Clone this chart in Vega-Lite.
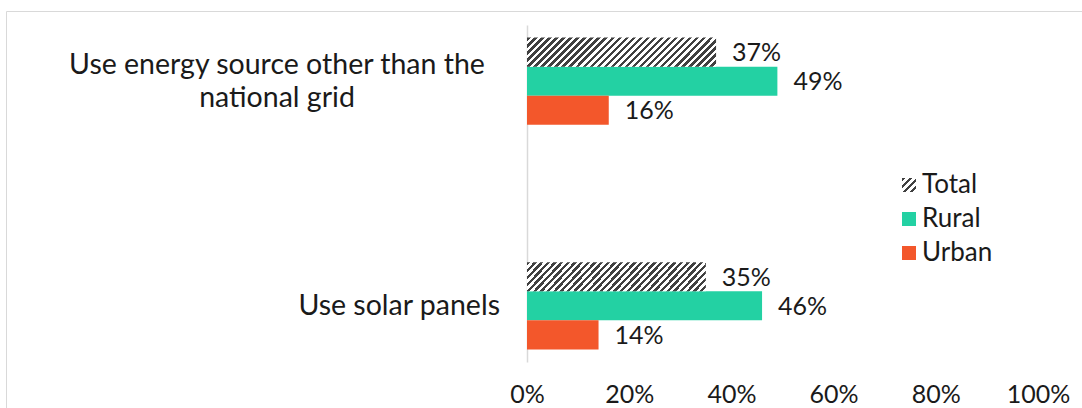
{
  "$schema": "https://vega.github.io/schema/vega-lite/v6.json",
  "width": 1080,
  "height": 400,
  "autosize": {"type": "none"},
  "padding": {"left": 6, "top": 11, "right": 0, "bottom": 0},
  "background": "white",
  "config": {
    "view": {"stroke": "#d9d9d9", "strokeWidth": 1},
    "font": "Lato",
    "text": {"font": "Lato", "color": "#1a1a1a"}
  },
  "data": {
    "values": [
      {"category": "Use energy source other than the\nnational grid", "series": "Total", "value": 0.37},
      {"category": "Use energy source other than the\nnational grid", "series": "Rural", "value": 0.49},
      {"category": "Use energy source other than the\nnational grid", "series": "Urban", "value": 0.16},
      {"category": "Use solar panels", "series": "Total", "value": 0.35},
      {"category": "Use solar panels", "series": "Rural", "value": 0.46},
      {"category": "Use solar panels", "series": "Urban", "value": 0.14}
    ]
  },
  "encoding": {
    "y": {
      "field": "category",
      "type": "nominal",
      "scale": {
        "domain": ["Use energy source other than the\nnational grid", "Use solar panels"],
        "range": [14, 351],
        "paddingInner": 0.612,
        "paddingOuter": 0.056
      },
      "axis": {
        "labels": false,
        "ticks": false,
        "grid": false,
        "title": null,
        "domainColor": "#d9d9d9",
        "domainWidth": 1.5,
        "offset": -521
      }
    },
    "x": {
      "field": "value",
      "type": "quantitative",
      "scale": {"domain": [0, 1], "range": [521, 1032]},
      "axis": {
        "format": ".0%",
        "values": [0, 0.2, 0.4, 0.6, 0.8, 1],
        "domain": false,
        "ticks": false,
        "grid": false,
        "title": null,
        "labelFlush": false,
        "labelOverlap": false,
        "labelFont": "Lato",
        "labelFontSize": 25,
        "labelColor": "#1a1a1a",
        "labelPadding": 0,
        "offset": -29
      }
    }
  },
  "layer": [
    {
      "transform": [{"filter": "datum.series !== 'Total'"}],
      "mark": {"type": "bar"},
      "encoding": {
        "yOffset": {"field": "series", "type": "nominal", "scale": {"domain": ["Total", "Rural", "Urban"], "paddingInner": 0, "paddingOuter": 0}},
        "color": {
          "field": "series",
          "type": "nominal",
          "scale": {
            "domain": ["Total", "Rural", "Urban"],
            "range": [
              {"expr": "{gradient: 'linear', x1: 0, y1: 0, x2: 1, y2: 1, stops: [{offset: 0, color: '#404040'}, {offset: 0.125, color: '#404040'}, {offset: 0.125, color: '#ffffff'}, {offset: 0.25, color: '#ffffff'}, {offset: 0.25, color: '#404040'}, {offset: 0.375, color: '#404040'}, {offset: 0.375, color: '#ffffff'}, {offset: 0.5, color: '#ffffff'}, {offset: 0.5, color: '#404040'}, {offset: 0.625, color: '#404040'}, {offset: 0.625, color: '#ffffff'}, {offset: 0.75, color: '#ffffff'}, {offset: 0.75, color: '#404040'}, {offset: 0.875, color: '#404040'}, {offset: 0.875, color: '#ffffff'}, {offset: 1, color: '#ffffff'}]}"},
              "#23D1A3",
              "#F3572B"
            ]
          },
          "legend": {
            "orient": "none",
            "legendX": 890,
            "legendY": 161,
            "padding": 0,
            "title": null,
            "symbolType": "square",
            "symbolSize": 196,
            "symbolStrokeWidth": 0,
            "labelFont": "Lato",
            "labelFontSize": 26,
            "labelColor": "#1a1a1a",
            "labelOffset": 0,
            "rowPadding": 8
          }
        }
      }
    },
    {
      "transform": [{"filter": "datum.series === 'Total'"}],
      "mark": {
        "type": "bar",
        "fill": {
          "gradient": "linear",
          "x1": 0, "y1": 0, "x2": 1.1269, "y2": 0.1729,
          "stops": [
            {"offset": 0, "color": "#404040"}, {"offset": 0.0161, "color": "#404040"}, {"offset": 0.0161, "color": "#ffffff"}, {"offset": 0.0323, "color": "#ffffff"},
            {"offset": 0.0323, "color": "#404040"}, {"offset": 0.0484, "color": "#404040"}, {"offset": 0.0484, "color": "#ffffff"}, {"offset": 0.0645, "color": "#ffffff"},
            {"offset": 0.0645, "color": "#404040"}, {"offset": 0.0806, "color": "#404040"}, {"offset": 0.0806, "color": "#ffffff"}, {"offset": 0.0968, "color": "#ffffff"},
            {"offset": 0.0968, "color": "#404040"}, {"offset": 0.1129, "color": "#404040"}, {"offset": 0.1129, "color": "#ffffff"}, {"offset": 0.1290, "color": "#ffffff"},
            {"offset": 0.1290, "color": "#404040"}, {"offset": 0.1452, "color": "#404040"}, {"offset": 0.1452, "color": "#ffffff"}, {"offset": 0.1613, "color": "#ffffff"},
            {"offset": 0.1613, "color": "#404040"}, {"offset": 0.1774, "color": "#404040"}, {"offset": 0.1774, "color": "#ffffff"}, {"offset": 0.1935, "color": "#ffffff"},
            {"offset": 0.1935, "color": "#404040"}, {"offset": 0.2097, "color": "#404040"}, {"offset": 0.2097, "color": "#ffffff"}, {"offset": 0.2258, "color": "#ffffff"},
            {"offset": 0.2258, "color": "#404040"}, {"offset": 0.2419, "color": "#404040"}, {"offset": 0.2419, "color": "#ffffff"}, {"offset": 0.2581, "color": "#ffffff"},
            {"offset": 0.2581, "color": "#404040"}, {"offset": 0.2742, "color": "#404040"}, {"offset": 0.2742, "color": "#ffffff"}, {"offset": 0.2903, "color": "#ffffff"},
            {"offset": 0.2903, "color": "#404040"}, {"offset": 0.3065, "color": "#404040"}, {"offset": 0.3065, "color": "#ffffff"}, {"offset": 0.3226, "color": "#ffffff"},
            {"offset": 0.3226, "color": "#404040"}, {"offset": 0.3387, "color": "#404040"}, {"offset": 0.3387, "color": "#ffffff"}, {"offset": 0.3548, "color": "#ffffff"},
            {"offset": 0.3548, "color": "#404040"}, {"offset": 0.3710, "color": "#404040"}, {"offset": 0.3710, "color": "#ffffff"}, {"offset": 0.3871, "color": "#ffffff"},
            {"offset": 0.3871, "color": "#404040"}, {"offset": 0.4032, "color": "#404040"}, {"offset": 0.4032, "color": "#ffffff"}, {"offset": 0.4194, "color": "#ffffff"},
            {"offset": 0.4194, "color": "#404040"}, {"offset": 0.4355, "color": "#404040"}, {"offset": 0.4355, "color": "#ffffff"}, {"offset": 0.4516, "color": "#ffffff"},
            {"offset": 0.4516, "color": "#404040"}, {"offset": 0.4677, "color": "#404040"}, {"offset": 0.4677, "color": "#ffffff"}, {"offset": 0.4839, "color": "#ffffff"},
            {"offset": 0.4839, "color": "#404040"}, {"offset": 0.5000, "color": "#404040"}, {"offset": 0.5000, "color": "#ffffff"}, {"offset": 0.5161, "color": "#ffffff"},
            {"offset": 0.5161, "color": "#404040"}, {"offset": 0.5323, "color": "#404040"}, {"offset": 0.5323, "color": "#ffffff"}, {"offset": 0.5484, "color": "#ffffff"},
            {"offset": 0.5484, "color": "#404040"}, {"offset": 0.5645, "color": "#404040"}, {"offset": 0.5645, "color": "#ffffff"}, {"offset": 0.5806, "color": "#ffffff"},
            {"offset": 0.5806, "color": "#404040"}, {"offset": 0.5968, "color": "#404040"}, {"offset": 0.5968, "color": "#ffffff"}, {"offset": 0.6129, "color": "#ffffff"},
            {"offset": 0.6129, "color": "#404040"}, {"offset": 0.6290, "color": "#404040"}, {"offset": 0.6290, "color": "#ffffff"}, {"offset": 0.6452, "color": "#ffffff"},
            {"offset": 0.6452, "color": "#404040"}, {"offset": 0.6613, "color": "#404040"}, {"offset": 0.6613, "color": "#ffffff"}, {"offset": 0.6774, "color": "#ffffff"},
            {"offset": 0.6774, "color": "#404040"}, {"offset": 0.6935, "color": "#404040"}, {"offset": 0.6935, "color": "#ffffff"}, {"offset": 0.7097, "color": "#ffffff"},
            {"offset": 0.7097, "color": "#404040"}, {"offset": 0.7258, "color": "#404040"}, {"offset": 0.7258, "color": "#ffffff"}, {"offset": 0.7419, "color": "#ffffff"},
            {"offset": 0.7419, "color": "#404040"}, {"offset": 0.7581, "color": "#404040"}, {"offset": 0.7581, "color": "#ffffff"}, {"offset": 0.7742, "color": "#ffffff"},
            {"offset": 0.7742, "color": "#404040"}, {"offset": 0.7903, "color": "#404040"}, {"offset": 0.7903, "color": "#ffffff"}, {"offset": 0.8065, "color": "#ffffff"},
            {"offset": 0.8065, "color": "#404040"}, {"offset": 0.8226, "color": "#404040"}, {"offset": 0.8226, "color": "#ffffff"}, {"offset": 0.8387, "color": "#ffffff"},
            {"offset": 0.8387, "color": "#404040"}, {"offset": 0.8548, "color": "#404040"}, {"offset": 0.8548, "color": "#ffffff"}, {"offset": 0.8710, "color": "#ffffff"},
            {"offset": 0.8710, "color": "#404040"}, {"offset": 0.8871, "color": "#404040"}, {"offset": 0.8871, "color": "#ffffff"}, {"offset": 0.9032, "color": "#ffffff"},
            {"offset": 0.9032, "color": "#404040"}, {"offset": 0.9194, "color": "#404040"}, {"offset": 0.9194, "color": "#ffffff"}, {"offset": 0.9355, "color": "#ffffff"},
            {"offset": 0.9355, "color": "#404040"}, {"offset": 0.9516, "color": "#404040"}, {"offset": 0.9516, "color": "#ffffff"}, {"offset": 0.9677, "color": "#ffffff"},
            {"offset": 0.9677, "color": "#404040"}, {"offset": 0.9839, "color": "#404040"}, {"offset": 0.9839, "color": "#ffffff"}, {"offset": 1, "color": "#ffffff"}
          ]
        }
      },
      "encoding": {
        "yOffset": {"field": "series", "type": "nominal", "scale": {"domain": ["Total", "Rural", "Urban"], "paddingInner": 0, "paddingOuter": 0}}
      }
    },
    {
      "mark": {"type": "text", "align": "left", "baseline": "middle", "dx": 16, "dy": 1, "fontSize": 25, "font": "Lato", "color": "#1a1a1a"},
      "encoding": {
        "yOffset": {"field": "series", "type": "nominal", "scale": {"domain": ["Total", "Rural", "Urban"], "paddingInner": 0, "paddingOuter": 0}},
        "text": {"field": "value", "type": "quantitative", "format": ".0%"}
      }
    },
    {
      "transform": [{"filter": "datum.series === 'Total' && datum.category === 'Use solar panels'"}],
      "mark": {"type": "text", "align": "right", "baseline": "middle", "dx": -27, "fontSize": 28.5, "font": "Lato", "color": "#1a1a1a"},
      "encoding": {
        "x": {"datum": 0, "type": "quantitative"},
        "text": {"field": "category", "type": "nominal"}
      }
    },
    {
      "transform": [{"filter": "datum.series === 'Total' && datum.category !== 'Use solar panels'"}],
      "mark": {"type": "text", "align": "center", "baseline": "middle", "dx": -250, "dy": -16, "lineBreak": "\n", "lineHeight": 33, "fontSize": 28.5, "font": "Lato", "color": "#1a1a1a"},
      "encoding": {
        "x": {"datum": 0, "type": "quantitative"},
        "text": {"field": "category", "type": "nominal"}
      }
    }
  ]
}
